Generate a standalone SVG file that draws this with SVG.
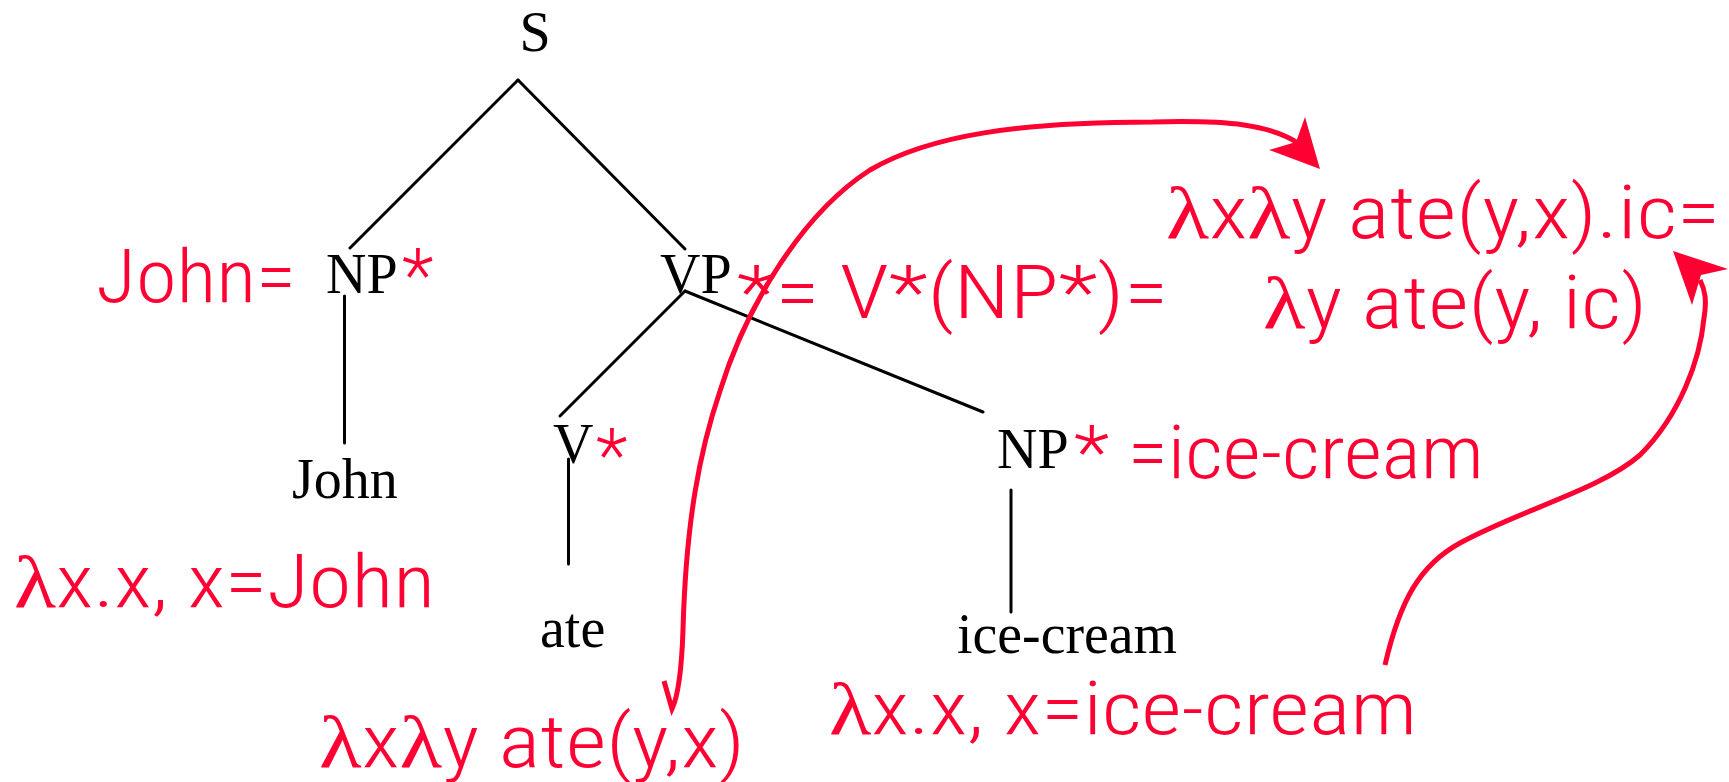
<svg xmlns="http://www.w3.org/2000/svg" width="1729" height="782" viewBox="0 0 1729 782">
<style>
.n{font-family:"Liberation Serif","Times New Roman",serif;font-size:56px;fill:#000}
.r{font-family:"Roboto Condensed",Roboto,"Liberation Sans",sans-serif;font-weight:300;font-size:74px;fill:#ff0033}
.l{font-family:"Liberation Serif",serif;font-weight:400}
.e{stroke:#000;stroke-width:3;fill:none;stroke-linecap:round}
.c{stroke:#ff0033;stroke-width:5;fill:none}
.h{fill:#ff0033;stroke:none}
</style>
<rect width="1729" height="782" fill="#fff"/>
<g id="connectors">
<line class="e" x1="518" y1="80" x2="350" y2="248"/>
<line class="e" x1="518" y1="80" x2="685" y2="249"/>
<line class="e" x1="344.5" y1="296" x2="344.5" y2="443"/>
<line class="e" x1="685" y1="291" x2="560" y2="416"/>
<line class="e" x1="685" y1="291" x2="983" y2="412"/>
<line class="e" x1="568.5" y1="459" x2="568.5" y2="564"/>
<line class="e" x1="1011" y1="490" x2="1011" y2="612"/>
<path class="c" d="M664,681 L672,709 Q681,690 683,630 C686,520 700,450 720,391 C745,310 800,215 870,170 C930,135 1020,122 1153,122 C1230,120 1270,125 1298,143"/>
<polygon class="h" points="1320,169 1269,150 1296,142 1305,117"/>
<path class="c" d="M1385,665 C1400,600 1420,565 1460,543 C1520,510 1600,490 1640,455 C1680,415 1700,360 1704,318 C1707,300 1705,290 1700,280"/>
<polygon class="h" points="1673,251 1728,269 1701,275 1692,305"/>
</g>
<g id="node-S"><text class="n" x="535" y="51" text-anchor="middle">S</text></g>
<g id="node-NP1">
<text class="n" x="326" y="293">NP</text>
<text class="r" x="402" y="301">*</text>
<text class="r" x="96" y="302" textLength="200" lengthAdjust="spacingAndGlyphs">John=</text>
</g>
<g id="node-VP">
<text class="n" x="660" y="293">VP</text>
<text class="r" x="737" y="318" textLength="431" lengthAdjust="spacingAndGlyphs">*= V*(NP*)=</text>
</g>
<g id="node-V">
<text class="n" x="553" y="463">V</text>
<text class="r" x="596" y="481">*</text>
</g>
<g id="node-NP2">
<text class="n" x="997" y="468">NP</text>
<text class="r" x="1074" y="478" textLength="410" lengthAdjust="spacingAndGlyphs">* =ice-cream</text>
</g>
<g id="node-John"><text class="n" x="292" y="498">John</text></g>
<g id="node-ate"><text class="n" x="540" y="647">ate</text></g>
<g id="node-icecream"><text class="n" x="957" y="653" textLength="220" lengthAdjust="spacingAndGlyphs">ice-cream</text></g>
<g id="label-john-sem"><text class="r" x="14" y="607" textLength="421" lengthAdjust="spacingAndGlyphs"><tspan class="l">λ</tspan>x.x,  x=John</text></g>
<g id="label-ate-sem"><text class="r" x="319" y="767" textLength="426" lengthAdjust="spacingAndGlyphs"><tspan class="l">λ</tspan>x<tspan class="l">λ</tspan>y ate(y,x)</text></g>
<g id="label-ic-sem"><text class="r" x="829" y="734" textLength="588" lengthAdjust="spacingAndGlyphs"><tspan class="l">λ</tspan>x.x,  x=ice-cream</text></g>
<g id="label-result">
<text class="r" x="1166" y="238" textLength="554" lengthAdjust="spacingAndGlyphs"><tspan class="l">λ</tspan>x<tspan class="l">λ</tspan>y ate(y,x).ic=</text>
<text class="r" x="1263" y="328" textLength="384" lengthAdjust="spacingAndGlyphs"><tspan class="l">λ</tspan>y ate(y, ic)</text>
</g>
</svg>
